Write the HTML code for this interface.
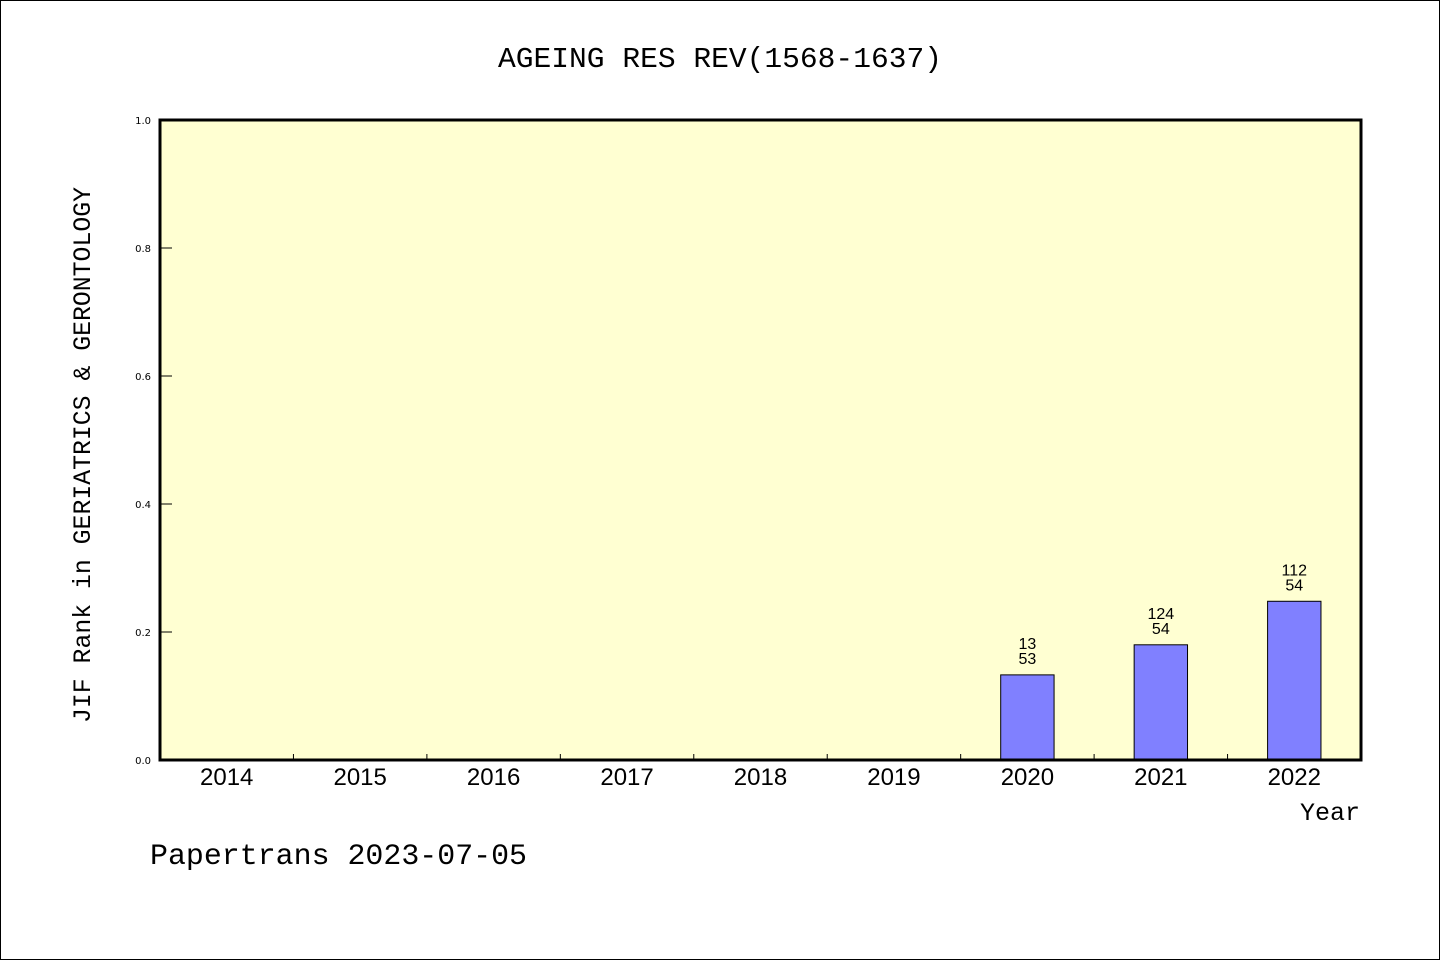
<!DOCTYPE html>
<html><head><meta charset="utf-8"><style>html,body{margin:0;padding:0;background:#fff}svg{display:block}</style></head>
<body>
<svg id="chart" width="1440" height="960" xmlns="http://www.w3.org/2000/svg">
<rect x="0.5" y="0.5" width="1439" height="959" fill="#fff" stroke="#000" stroke-width="1"/>
<text x="720" y="67" text-anchor="middle" font-family="Liberation Mono, monospace" font-size="29" textLength="444" lengthAdjust="spacingAndGlyphs">AGEING RES REV(1568-1637)</text>
<rect x="160" y="120" width="1201" height="640" fill="#ffffd2"/>
<g id="bars"></g>
<g id="ticks"></g>
<rect x="160" y="120" width="1201" height="640" fill="none" stroke="#000" stroke-width="3"/>
<text transform="translate(90,455) rotate(-90)" text-anchor="middle" font-family="Liberation Mono, monospace" font-size="25" textLength="536" lengthAdjust="spacingAndGlyphs">JIF Rank in GERIATRICS &amp; GERONTOLOGY</text>
<text x="1360" y="820" text-anchor="end" font-family="Liberation Mono, monospace" font-size="25">Year</text>
<text x="150" y="864" font-family="Liberation Mono, monospace" font-size="30" textLength="377" lengthAdjust="spacingAndGlyphs">Papertrans 2023-07-05</text>
</svg>
<script>
const years = ["2014","2015","2016","2017","2018","2019","2020","2021","2022"];
const values = [null,null,null,null,null,null,0.133,0.18,0.248];
const rankLabels = [null,null,null,null,null,null,"13","124","112"];
const totalLabels = [null,null,null,null,null,null,"53","54","54"];
const yTicks = [0.0,0.2,0.4,0.6,0.8,1.0];
const yTickLabels = ["0.0","0.2","0.4","0.6","0.8","1.0"];

const NS="http://www.w3.org/2000/svg";
const X0=160,X1=1361,Y0=760,Y1=120;
const band=(X1-X0)/years.length;
const xc=i=>X0+band*(i+0.5);
const y=v=>Y0-(Y0-Y1)*v;
function mk(tag,attrs,parent){const e=document.createElementNS(NS,tag);for(const k in attrs)e.setAttribute(k,attrs[k]);parent.appendChild(e);return e;}
const bars=document.getElementById('bars'), ticks=document.getElementById('ticks');
const bw=band*0.4;
values.forEach((v,i)=>{
  if(v==null) return;
  const r=mk('rect',{x:xc(i)-bw/2,y:y(v),width:bw,height:Y0-y(v),fill:'#8080ff',stroke:'#000','stroke-width':1},bars);
  
  
  const t1=mk('text',{x:xc(i),y:y(v)-26,'text-anchor':'middle','font-family':'Liberation Sans, sans-serif','font-size':16},bars);
  t1.textContent=rankLabels[i];
  
  
  const t2=mk('text',{x:xc(i),y:y(v)-11,'text-anchor':'middle','font-family':'Liberation Sans, sans-serif','font-size':16},bars);
  t2.textContent=totalLabels[i];
  
  
});
years.forEach((yr,i)=>{
  const t=mk('text',{x:xc(i),y:785,'text-anchor':'middle','font-family':'Liberation Sans, sans-serif','font-size':24},ticks);
  t.textContent=yr;
  
  
  if(i>0){
    const l=mk('line',{x1:X0+band*i,x2:X0+band*i,y1:Y0,y2:Y0-6,stroke:'#000','stroke-width':1},ticks);
    
    
  }
});
yTicks.forEach((v,i)=>{
  const l=mk('line',{x1:X0,x2:X0+12,y1:y(v),y2:y(v),stroke:'#000','stroke-width':1},ticks);
  
  
  const t=mk('text',{x:151,y:y(v)+4,'text-anchor':'end','font-family':'DejaVu Sans, sans-serif','font-size':10},ticks);
  t.textContent=yTickLabels[i];
  
  
});
</script>
</body></html>
